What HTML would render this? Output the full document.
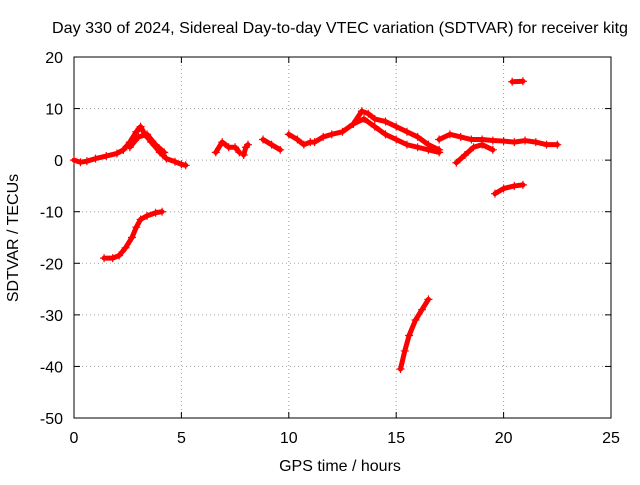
<!DOCTYPE html>
<html><head><meta charset="utf-8"><style>
body{margin:0;background:#fff;width:640px;height:480px;overflow:hidden}
text{font-family:"Liberation Sans",sans-serif;font-size:16px;fill:#000}
</style></head><body>
<svg id="chart" width="640" height="480" xmlns="http://www.w3.org/2000/svg">
<rect width="640" height="480" fill="#fff"/>
<g id="grid"></g><g id="axes"></g><g id="marks"></g>
<text x="340" y="33" text-anchor="middle" textLength="576" lengthAdjust="spacingAndGlyphs">Day 330 of 2024, Sidereal Day-to-day VTEC variation (SDTVAR) for receiver kitg</text>
<text x="340" y="471" text-anchor="middle">GPS time / hours</text>
<text transform="translate(18,238) rotate(-90)" text-anchor="middle">SDTVAR / TECUs</text>
</svg>
<script>
const xTicks=[0,5,10,15,20,25];
const yTicks=[20,10,0,-10,-20,-30,-40,-50];
const seg1=[[0,0],[0.3,-0.4],[0.6,-0.2],[1,0.3],[1.5,0.8],[2,1.3],[2.3,2]];
const seg2=[[2.3,2],[2.6,3.5],[2.9,5.5],[3.1,6.5],[3.3,5],[3.6,3.5],[4,1.5],[4.3,0.3],[4.7,-0.3],[5,-0.8],[5.2,-1]];
const seg2b=[[2.6,2.5],[3,4.5],[3.4,5],[3.8,3],[4.2,1.5]];
const seg3=[[1.4,-19],[1.8,-19],[2.1,-18.5],[2.4,-17],[2.7,-15],[2.9,-13],[3.1,-11.5],[3.4,-10.8],[3.8,-10.2],[4.1,-10]];
const seg4=[[6.6,1.5],[6.9,3.5],[7.2,2.5],[7.5,2.5],[7.7,1.5]];
const seg4b=[[7.9,1],[8,2.5],[8.1,3]];
const seg5=[[8.8,4],[9.2,3],[9.6,2]];
const seg6=[[10,5],[10.4,4],[10.7,3],[11,3.5],[11.2,3.5],[11.6,4.5],[12,5],[12.5,5.5],[13,7],[13.4,9.5],[13.7,9],[14,8],[14.5,7.5],[15,6.5],[15.5,5.5],[16,4.5],[16.5,3],[17,2]];
const seg6b=[[13,7],[13.5,8],[14,6.5],[14.5,5],[15,4],[15.5,3],[16,2.5],[16.5,2],[17,1.5]];
const seg7=[[17,4],[17.5,5],[18,4.5],[18.5,4],[19,4],[19.5,3.8],[20,3.7],[20.5,3.5],[21,3.8],[21.5,3.5],[22,3],[22.5,3]];
const seg8=[[17.8,-0.5],[18.2,1],[18.6,2.5],[19,3],[19.5,2]];
const seg9=[[19.6,-6.5],[20,-5.5],[20.5,-5],[20.9,-4.8]];
const seg10=[[20.4,15.2],[20.9,15.3]];
const seg11=[[15.2,-40.5],[15.4,-37],[15.6,-34],[15.9,-31],[16.2,-29],[16.5,-27]];
const series=[seg1,seg2,seg2b,seg3,seg4,seg4b,seg5,seg6,seg6b,seg7,seg8,seg9,seg10,seg11];
const L=74,R=611,T=57,B=418;
const xs=v=>L+(v-0)/25*(R-L);
const ys=v=>B-(v+50)/70*(B-T);
const NS="http://www.w3.org/2000/svg";
function mk(t,a,p){const e=document.createElementNS(NS,t);for(const k in a)e.setAttribute(k,a[k]);p.appendChild(e);return e;}
const grid=document.getElementById('grid'),axes=document.getElementById('axes'),marks=document.getElementById('marks');
xTicks.forEach(v=>{
 const x=xs(v);
 if(v>0&&v<25){const g=mk('line',{x1:x,x2:x,y1:T,y2:B,stroke:'#a0a0a0','stroke-dasharray':'1,3'},grid);
 
 }
 mk('line',{x1:x,x2:x,y1:B,y2:B-6,stroke:'#000'},axes);
 mk('line',{x1:x,x2:x,y1:T,y2:T+6,stroke:'#000'},axes);
 const t=mk('text',{x:x,y:B+25,'text-anchor':'middle'},axes);t.textContent=v;
 
 
});
yTicks.forEach(v=>{
 const y=ys(v);
 if(v>-50&&v<20){const g=mk('line',{x1:L,x2:R,y1:y,y2:y,stroke:'#a0a0a0','stroke-dasharray':'1,3'},grid);
 
 }
 mk('line',{x1:L,x2:L+6,y1:y,y2:y,stroke:'#000'},axes);
 mk('line',{x1:R,x2:R-6,y1:y,y2:y,stroke:'#000'},axes);
 const t=mk('text',{x:L-11,y:y+6,'text-anchor':'end'},axes);t.textContent=v;
 
 
});
const fr=mk('rect',{x:L,y:T,width:R-L,height:B-T,fill:'none',stroke:'#000'},axes);


series.forEach(s=>{
 const pl=mk('polyline',{points:s.map(p=>xs(p[0])+','+ys(p[1])).join(' '),fill:'none',stroke:'#f00','stroke-width':5,'stroke-linejoin':'round','stroke-linecap':'round'},marks);
 
 
 s.forEach(p=>{
  const x=xs(p[0]),y=ys(p[1]);
  const m=mk('path',{d:`M${x-4},${y}H${x+4}M${x},${y-4}V${y+4}`,stroke:'#f00','stroke-width':1.2},marks);
  
  
 });
});
</script>
</body></html>
